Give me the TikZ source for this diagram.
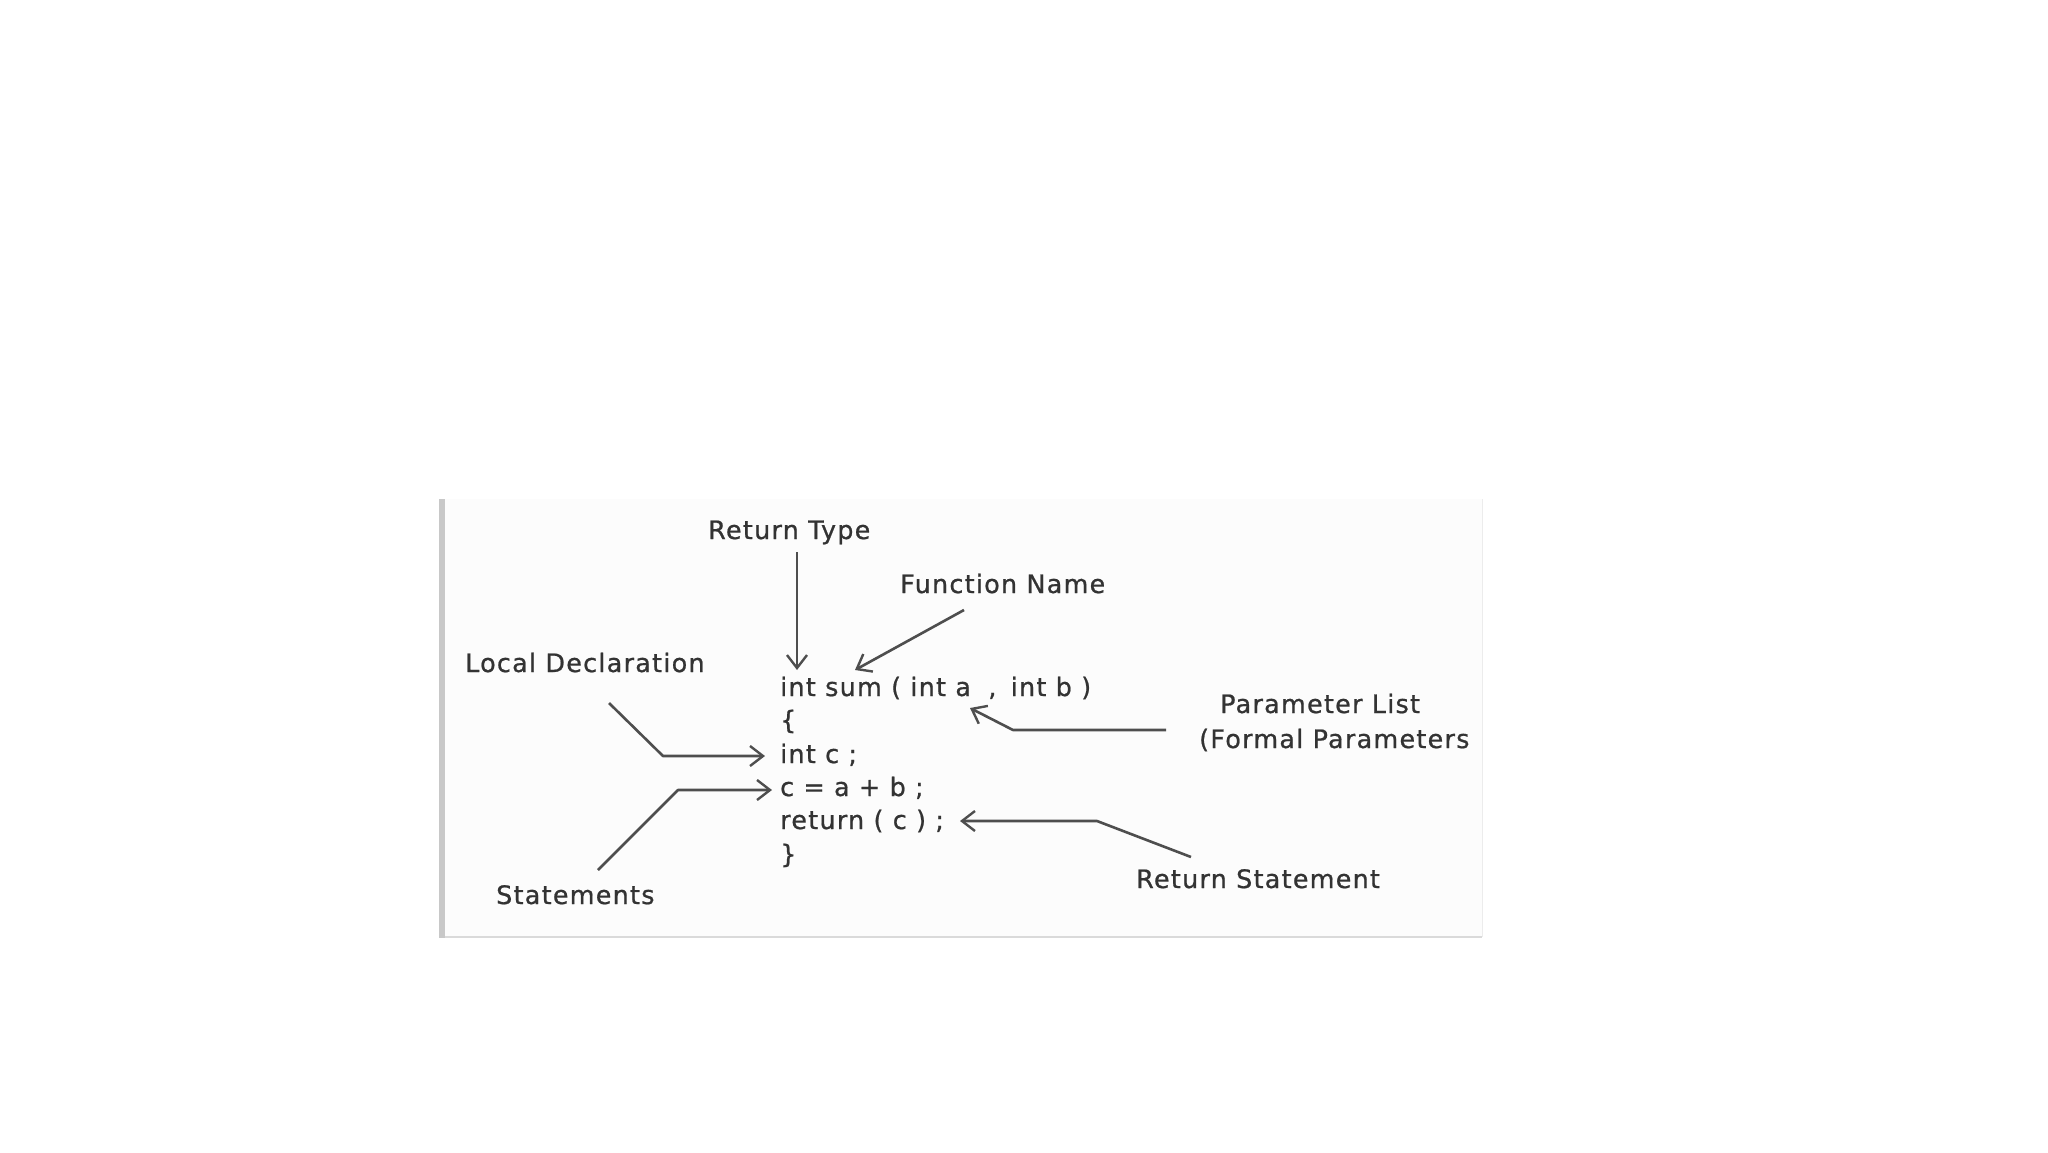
\documentclass[tikz,border=0pt]{standalone}
\usepackage{fontspec}
\setmainfont{DejaVu Sans}[LetterSpace=5,FakeBold=0.8]
\usetikzlibrary{arrows.meta}
\definecolor{txt}{HTML}{333333}
\definecolor{arr}{HTML}{4E4E4E}
\definecolor{panelbg}{HTML}{FCFCFC}
\definecolor{bar}{HTML}{C8C8C8}
\definecolor{edge}{HTML}{DADADA}
\begin{document}
\begin{tikzpicture}[x=1pt,y=-1pt,
  lbl/.style={anchor=base west,inner sep=0pt,text=txt,font=\fontsize{25.4}{30}\selectfont},
  codeline/.style={lbl},
  pointer/.style={draw=arr,line width=2.6pt,line join=round,-{Straight Barb[length=13pt,width=20pt,line width=2.4pt]}}]
\useasboundingbox (0,0) rectangle (2048,1152);
\fill[white] (0,0) rectangle (2048,1152);
% panel
\fill[panelbg] (439,499) rectangle (1482,938);
\fill[bar] (439,499) rectangle (445,938);
\draw[edge,line width=1.5pt] (445,937) -- (1482,937);
\draw[edge!50,line width=1pt] (1482,499) -- (1482,937);
% labels
\node[lbl] (rt) at (708,539) {Return Type};
\node[lbl] (fn) at (900,593) {Function Name};
\node[lbl] (ld) at (465,672) {Local Declaration};
\node[lbl] (pl) at (1220,713) {Parameter List};
\begin{scope}
  \clip (439,499) rectangle (1469,938);
  \node[lbl] (fp) at (1199,748) {(Formal Parameters)};
\end{scope}
\node[lbl] (st) at (496,904) {Statements};
\node[lbl] (rs) at (1136,888) {Return Statement};
% code
\node[codeline] (c1) at (780,696) {int sum ( int a\hspace{8pt} ,\hspace{5pt} int b )};
\node[codeline] (c2) at (780,729) {\{};
\node[codeline] (c3) at (780,763) {int c ;};
\node[codeline] (c4) at (780,796) {c = a + b ;};
\node[codeline] (c5) at (780,829) {return ( c ) ;};
\node[codeline] (c6) at (780,863) {\}};
% connector points
\coordinate (rtA) at (797,552);
\coordinate (rtB) at (797,670);
\coordinate (fnA) at (964,610);
\coordinate (fnB) at (855,670);
\coordinate (ldA) at (609,703);
\coordinate (ldM) at (663,756);
\coordinate (ldB) at (765,756);
\coordinate (plA) at (1166,730);
\coordinate (plM) at (1013,730);
\coordinate (plB) at (970,708);
\coordinate (stA) at (598,870);
\coordinate (stM) at (678,790);
\coordinate (stB) at (772,790);
\coordinate (rsA) at (1191,857);
\coordinate (rsM) at (1097,821);
\coordinate (rsB) at (960,821);
% connectors
\draw[pointer] (rtA) -- (rtB);
\draw[pointer] (fnA) -- (fnB);
\draw[pointer] (ldA) -- (ldM) -- (ldB);
\draw[pointer] (plA) -- (plM) -- (plB);
\draw[pointer] (stA) -- (stM) -- (stB);
\draw[pointer] (rsA) -- (rsM) -- (rsB);
\end{tikzpicture}
\end{document}
